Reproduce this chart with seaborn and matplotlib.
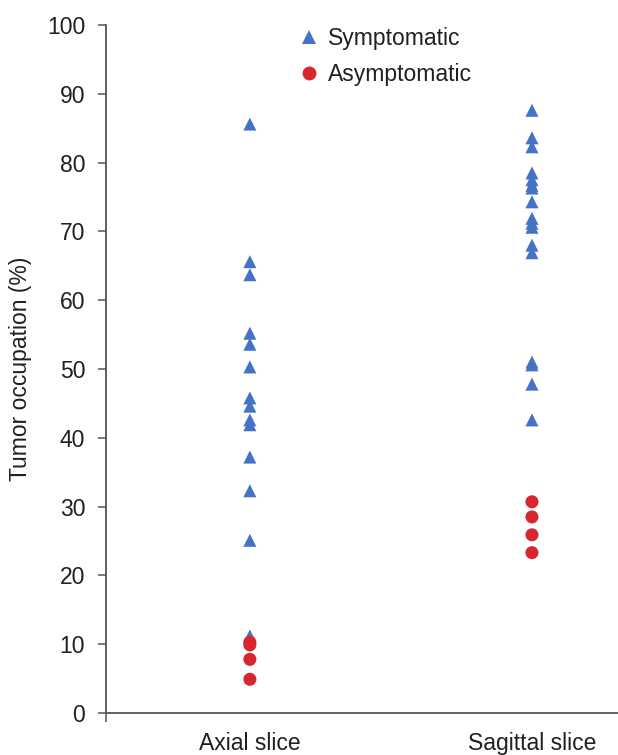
import numpy as np
import pandas as pd
import matplotlib
matplotlib.use("Agg")
import matplotlib.pyplot as plt
import seaborn as sns

# values
slices = ["Axial slice", "Sagittal slice"]
groups = ["Symptomatic", "Asymptomatic"]

axial_sym = [85.6, 65.6, 63.7, 55.2, 53.6, 50.3, 45.8, 44.6, 42.6, 41.9,
             37.2, 32.3, 25.1, 11.2]
axial_asym = [10.3, 9.9, 7.8, 4.9]
sagittal_sym = [87.6, 83.6, 82.3, 78.5, 77.5, 76.7, 76.3, 74.3, 71.9, 71.2,
                70.6, 68.0, 66.9, 51.0, 50.6, 47.8, 42.6]
sagittal_asym = [30.7, 28.5, 25.9, 23.3]

yticks = [0, 10, 20, 30, 40, 50, 60, 70, 80, 90, 100]

rows = []
for s, g, vals in [(slices[0], groups[0], axial_sym),
                   (slices[1], groups[0], sagittal_sym),
                   (slices[0], groups[1], axial_asym),
                   (slices[1], groups[1], sagittal_asym)]:
    for v in vals:
        rows.append({"slice": s, "group": g, "value": v})
df = pd.DataFrame(rows)
df["pos"] = df["slice"].map({s: i for i, s in enumerate(slices)})

sns.set_style("white")
plt.rcParams["font.family"] = ["Liberation Sans", "DejaVu Sans"]
txt = "#231f20"
spine = "#555555"
fs = 16.5

fig = plt.figure(figsize=(6.18, 7.55), dpi=100)
ax = fig.add_axes([106 / 618, 1 - 713 / 755, 1 - 106 / 618, (713 - 25) / 755])

pal = {"Symptomatic": "#4472C4", "Asymptomatic": "#D7262D"}
mk = {"Symptomatic": "^", "Asymptomatic": "o"}
sns.scatterplot(data=df, x="pos", y="value", hue="group", style="group",
                hue_order=groups, style_order=groups, palette=pal, markers=mk,
                s=88, linewidth=0, ax=ax)

ax.set_ylim(0, 100)
ax.set_xlim(-0.51, 1.305)
ax.set_yticks(yticks)
ax.set_xticks([0, 1])
ax.set_xticklabels(slices)
ax.set_xticks([-0.51], minor=True)
ax.set_xlabel("")
ax.set_ylabel("Tumor occupation (%)", fontsize=fs, color=txt, labelpad=11)

for side in ["top", "right"]:
    ax.spines[side].set_visible(False)
for side in ["left", "bottom"]:
    ax.spines[side].set_color(spine)
    ax.spines[side].set_linewidth(1.3)

ax.tick_params(axis="y", direction="out", length=6, width=1.1, color=spine,
               labelsize=fs, labelcolor=txt, pad=9, left=True)
ax.tick_params(axis="x", which="major", length=0, labelsize=fs,
               labelcolor=txt, pad=14)
ax.tick_params(axis="x", which="minor", direction="out", length=6.5,
               width=1.1, color=spine, bottom=True)

leg = ax.get_legend()
handles = leg.legend_handles
labels = [t.get_text() for t in leg.texts]
leg.remove()
for h in handles:
    h.set_markersize(10)
fig.legend(handles, labels, loc="upper left",
           bbox_to_anchor=(300 / 618, 1 - 27 / 755),
           frameon=False, fontsize=fs, labelcolor=txt, handlelength=0.8,
           handletextpad=0.4, labelspacing=0.55, borderpad=0,
           borderaxespad=0)

fig.savefig("out.png", dpi=100)
plt.close()
